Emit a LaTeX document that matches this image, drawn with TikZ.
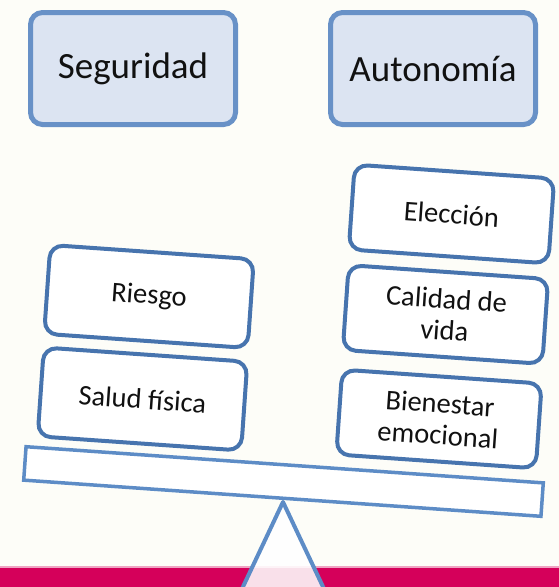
\documentclass[tikz,border=0pt]{standalone}
\usepackage{fontspec}
\setmainfont{Carlito}
\definecolor{paper}{HTML}{FDFDF8}
\definecolor{topline}{HTML}{6891C7}
\definecolor{topfill}{HTML}{DCE4F2}
\definecolor{boxline}{HTML}{4774AE}
\definecolor{beamline}{HTML}{5D8CC6}
\definecolor{floorbar}{HTML}{D5005A}
\definecolor{floorlight}{HTML}{EFA3C2}
\definecolor{ink}{HTML}{111111}
\begin{document}
\begin{tikzpicture}[x=1pt,y=-1pt,
    topbox/.style={draw=topline,fill=topfill,line width=5pt,rounded corners=12pt,
        minimum width=205pt,minimum height=112pt,text=ink,font=\fontsize{37}{44}\selectfont},
    weightbox/.style={draw=boxline,fill=white,line width=4pt,rounded corners=13pt,
        rotate=-4,align=center,inner sep=2pt,text=ink,font=\fontsize{28.5}{31.5}\selectfont},
    leftbox/.style={weightbox,minimum width=204pt,minimum height=89pt},
    rightbox/.style={weightbox,minimum width=200pt,minimum height=85pt}]
        \useasboundingbox (0,0) rectangle (559,587);
        \fill[paper] (0,0) rectangle (559,587);

        % floor
        \fill[floorbar] (0,567) rectangle (559,587);
        \fill[floorlight] (0,565.5) rectangle (559,568);

        % fulcrum
        \coordinate (apex) at (283,502);
        \draw[beamline,line width=4pt,line join=round,fill=white,fill opacity=0.88]
            (apex) -- (325,591) -- (241,591) -- cycle;

        % beam
        \node[draw=beamline,fill=white,line width=3.5pt,rotate=-4,
            minimum width=518.5pt,minimum height=33.5pt] (beam) at (283.5,481.5) {};

        % top labels
        \node[topbox] (seguridad) at (133,68.5) {Seguridad};
        \node[topbox] (autonomia) at (433,68.5) {Autonomía};

        % left weights
        \node[leftbox] (salud) at (142.5,399) {Salud física};
        \node[leftbox] (riesgo) at (149,296.5) {Riesgo};

        % right weights
        \node[rightbox] (bienestar) at (439,419) {Bienestar\\emocional};
        \node[rightbox] (calidad) at (445.5,314.5) {Calidad de\\vida};
        \node[rightbox] (eleccion) at (451.5,214) {Elección};
\end{tikzpicture}
\end{document}
